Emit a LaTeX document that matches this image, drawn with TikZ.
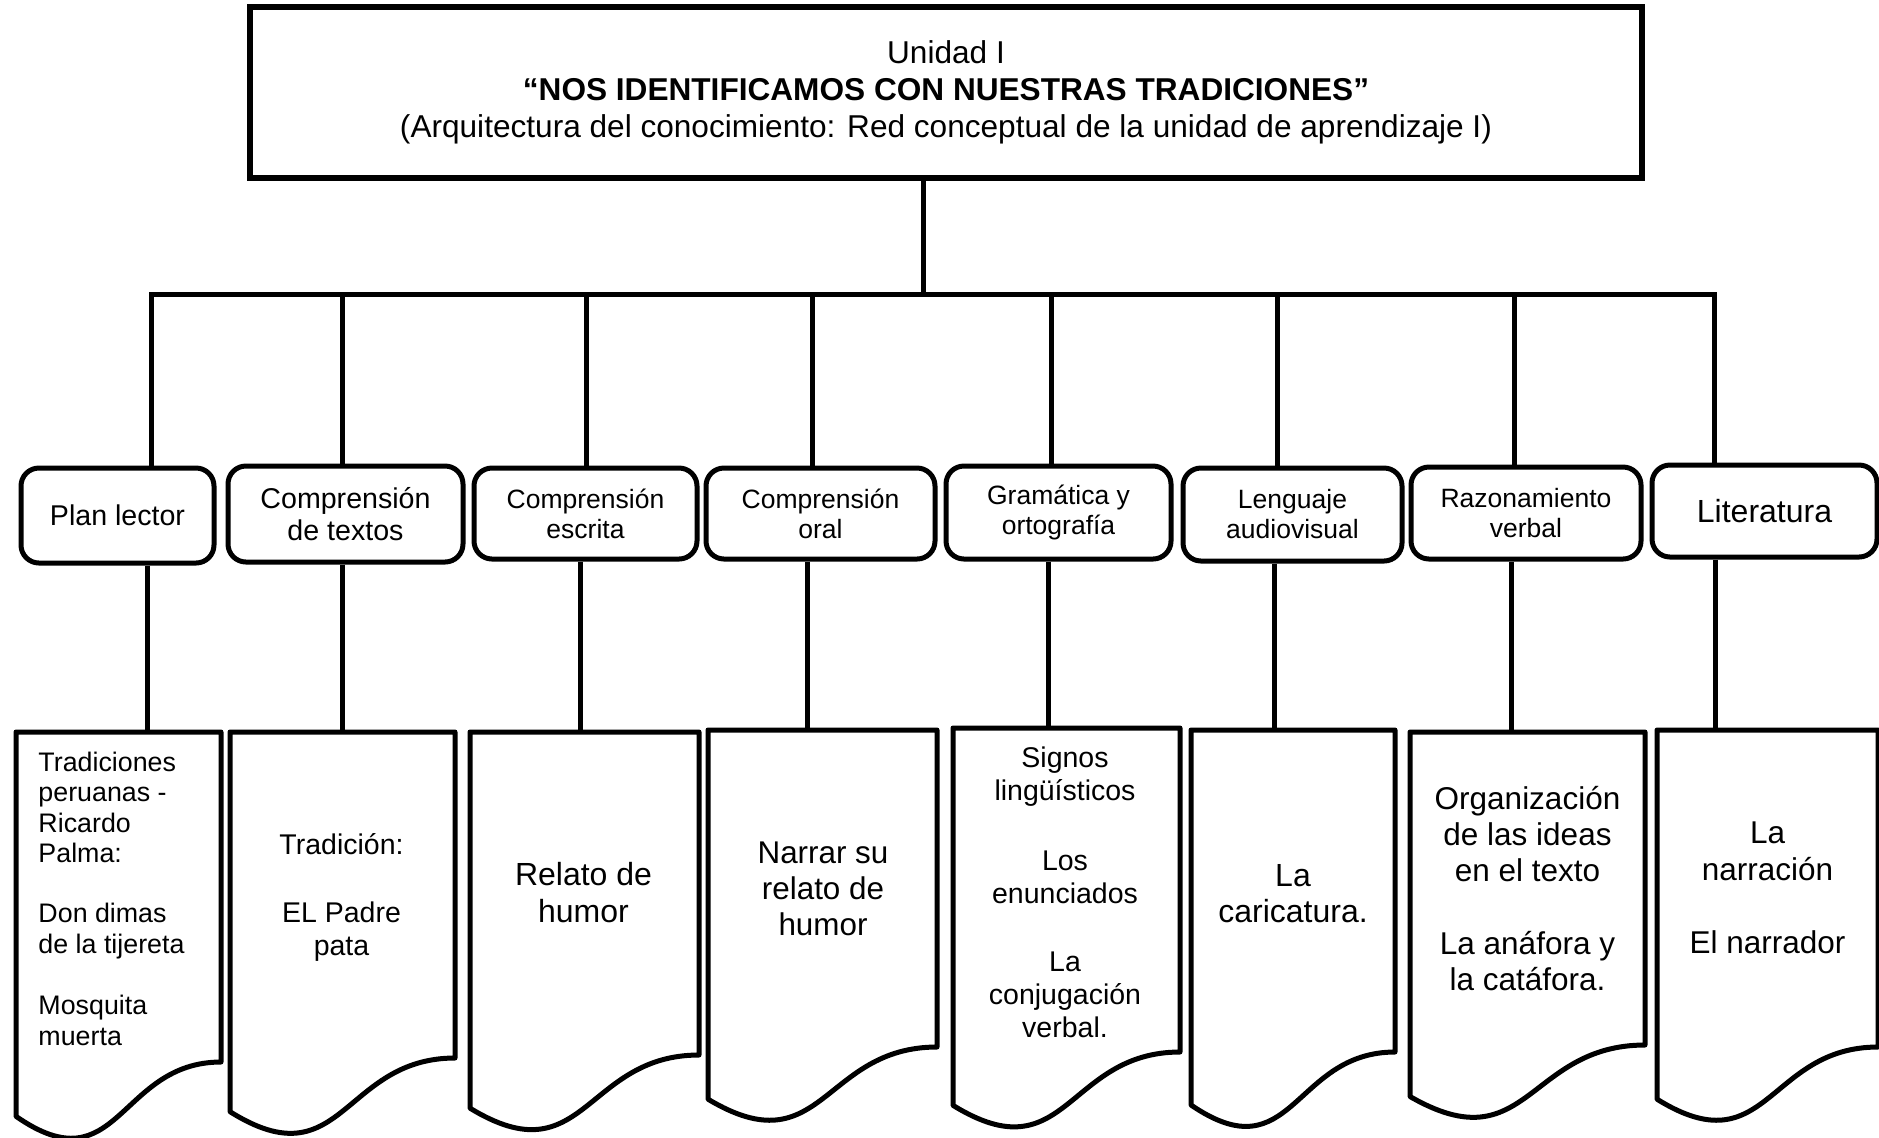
\documentclass[tikz,border=0pt]{standalone}
\usepackage{fontspec}
\setmainfont{Liberation Sans}
\newcommand\fs[2]{\fontsize{#1}{#2}\selectfont}
\newcommand\docshape[4]{% left, right, top, right-bottom (pixel units)
  \pgfmathsetmacro\dsH{(#4-#3)/0.802}%
  \pgfmathsetmacro\dsYL{#3+0.934*\dsH}%
  \pgfmathsetmacro\dsYC{#3+1.1075*\dsH}%
  \pgfmathsetmacro\dsXM{(#1+#2)/2}%
  \draw[docline] (#1,#3) -- (#2,#3) -- (#2,#4) .. controls (\dsXM,#4) and (\dsXM,\dsYC) .. (#1,\dsYL) -- cycle;}
\begin{document}
\begin{tikzpicture}[x=0.5pt,y=-0.5pt,line width=2.5pt,
  titlebox/.style={draw,line width=2.6pt,minimum width=696pt,minimum height=85.5pt,align=center,inner sep=0pt},
  midbox/.style={draw,rounded corners=9pt,align=center,inner sep=0pt},
  docline/.style={line width=2.5pt,line join=round},
  doctext/.style={inner sep=0pt,align=center,anchor=base},
  link/.style={line width=2.5pt}]
\fill[white] (0,0) rectangle (1879,1137);
\useasboundingbox (0,0) rectangle (1879,1137);

% title
\node[titlebox,font={\fs{15.8}{18.4}}] (top) at (946,92.5) {Unidad I\\
  \textbf{“NOS IDENTIFICAMOS CON NUESTRAS TRADICIONES”}\\
  (Arquitectura del conocimiento: Red conceptual de la unidad de aprendizaje I)};

% middle boxes
\node[midbox,minimum width=96.5pt,minimum height=47.5pt,font={\fs{14.3}{16}}] (m1) at (117.5,515.5) {Plan lector};
\node[midbox,minimum width=117.5pt,minimum height=48pt,font={\fs{14.3}{16}}] (m2) at (345.5,514) {Comprensión\\de textos};
\node[midbox,minimum width=111.5pt,minimum height=45.5pt,font={\fs{13.25}{15}}] (m3) at (585.5,513.5) {Comprensión\\escrita};
\node[midbox,minimum width=114.5pt,minimum height=45.5pt,font={\fs{13.25}{15}}] (m4) at (820.5,513.5) {Comprensión\\oral};
\node[midbox,minimum width=112.5pt,minimum height=46.5pt,font={\fs{13.25}{15}}] (m5) at (1058.5,512.5) {Gramática y\\ortografía};
\node[midbox,minimum width=109.5pt,minimum height=46.5pt,font={\fs{13.25}{15}}] (m6) at (1292.5,514.5) {Lenguaje\\audiovisual};
\node[midbox,minimum width=115pt,minimum height=46pt,font={\fs{13.25}{15}}] (m7) at (1526,513) {Razonamiento\\verbal};
\node[midbox,minimum width=112.5pt,minimum height=46pt,font={\fs{16}{18}}] (m8) at (1764.5,511) {Literatura};

% stem and bar
\coordinate (stem) at (923,294);
\coordinate (b1) at (151,294);
\coordinate (b2) at (342,294);
\coordinate (b3) at (586,294);
\coordinate (b4) at (812,294);
\coordinate (b5) at (1051,294);
\coordinate (b6) at (1277,294);
\coordinate (b7) at (1514,294);
\coordinate (b8) at (1714,294);
\draw[link] (top.south -| stem) -- (stem);
\draw[link,line cap=rect] (b1) -- (b8);
\foreach \i in {1,...,8}{\draw[link] (b\i) -- (b\i |- m\i.north);}

% document shapes
\docshape{16}{221}{732}{1062}
\docshape{230}{455}{732}{1058}
\docshape{470}{699}{732}{1055}
\docshape{708}{937}{730}{1047}
\docshape{953}{1180}{728}{1052}
\docshape{1191}{1395}{730}{1052}
\docshape{1410}{1645}{732}{1045}
\docshape{1657}{1878}{730}{1047}

% connection points on document tops
\coordinate (t1) at (147,732);
\coordinate (t2) at (342,732);
\coordinate (t3) at (580,732);
\coordinate (t4) at (807,730);
\coordinate (t5) at (1048,728);
\coordinate (t6) at (1274,730);
\coordinate (t7) at (1511,732);
\coordinate (t8) at (1715,730);
\foreach \i in {1,...,8}{\draw[link] (m\i.south -| t\i) -- (t\i);}

% document texts (anchored at the baseline of the last line)
\node[doctext,align=left,anchor=base west,font={\fs{13.4}{15.25}}] (d1) at (36,1045) {Tradiciones\\peruanas -\\Ricardo\\Palma:\\[14.75pt]Don dimas\\de la tijereta\\[15.5pt]Mosquita\\muerta};
\node[doctext,font={\fs{14.25}{16.25}}] (d2) at (341.5,955) {Tradición:\\[17.75pt]EL Padre\\pata};
\node[doctext,font={\fs{16}{18.5}}] (d3) at (583.5,922) {Relato de\\humor};
\node[doctext,font={\fs{15.7}{18}}] (d4) at (823,935) {Narrar su\\relato de\\humor};
\node[doctext,font={\fs{14.25}{16.5}}] (d5) at (1065,1037) {Signos\\lingüísticos\\[18.5pt]Los\\enunciados\\[17.5pt]La\\conjugación\\verbal.};
\node[doctext,font={\fs{16}{18}}] (d6) at (1293,922) {La\\caricatura.};
\node[doctext,font={\fs{15.75}{18}}] (d7) at (1527.5,990) {Organización\\de las ideas\\en el texto\\[18.5pt]La anáfora y\\la catáfora.};
\node[doctext,font={\fs{15.75}{18.5}}] (d8) at (1767.5,953) {La\\narración\\[18pt]El narrador};
\end{tikzpicture}
\end{document}
